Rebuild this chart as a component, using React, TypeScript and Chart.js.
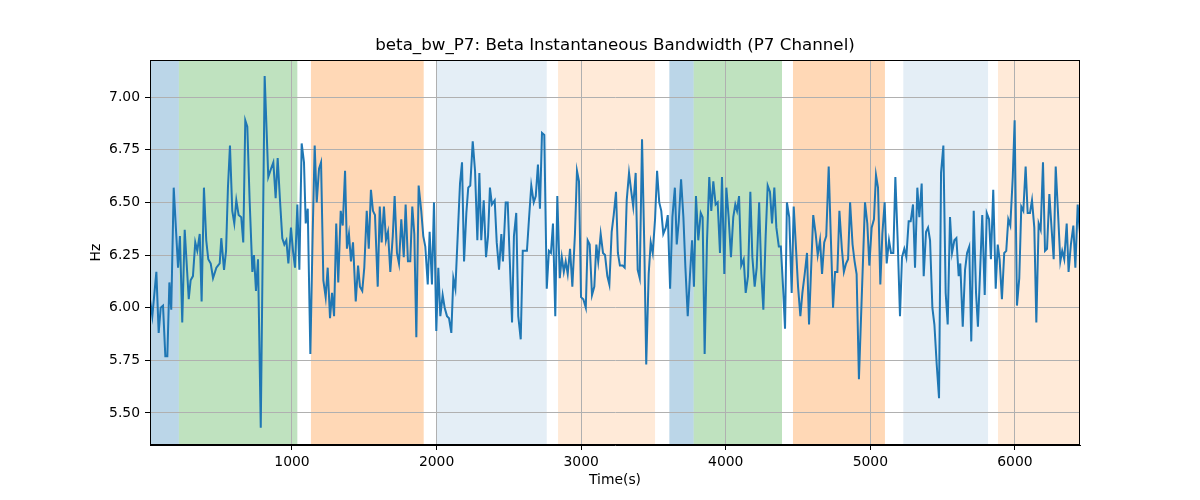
import React, { useEffect, useRef } from "react";
import { Chart, registerables } from "chart.js";

Chart.register(...registerables);

const times = [
  18, 34, 62, 78, 92, 108, 124, 138, 152, 165, 182, 212, 225, 241, 258, 286, 299, 315, 331, 345,
  362, 375, 391, 407, 421, 438, 454, 477, 488, 500, 511, 530, 544, 557, 571, 587, 601, 615, 631, 649,
  663, 677, 691, 707, 726, 737, 751, 765, 784, 811,
  836, 855, 871, 887, 901, 917, 933, 947, 961, 975, 993, 1007, 1021, 1037, 1051, 1067, 1083, 1095, 1109, 1127,
  1143, 1157, 1171, 1187, 1201, 1217, 1233, 1247, 1263, 1277, 1291, 1306, 1320, 1337, 1351, 1367, 1380, 1394, 1408, 1422,
  1441, 1457, 1470, 1486, 1500, 1517, 1531, 1546, 1560, 1574, 1593, 1607, 1620, 1636,
  1650, 1664, 1680, 1697, 1710, 1726, 1740, 1756, 1773, 1786, 1802, 1818, 1832, 1846, 1860, 1876, 1894, 1908, 1922, 1939,
  1952, 1968, 1982, 1998, 2012, 2026, 2042, 2056, 2072, 2086, 2102, 2116, 2130, 2146, 2162, 2176, 2190, 2206, 2219, 2233,
  2250, 2266, 2282, 2296, 2309, 2326, 2342, 2356, 2369, 2383, 2402, 2416, 2432, 2448,
  2459, 2478, 2492, 2506, 2522, 2535, 2551, 2565, 2582, 2596, 2611, 2625, 2639, 2655, 2672, 2686, 2701, 2715, 2729, 2745,
  2762, 2777, 2791, 2805, 2821, 2835, 2852, 2866, 2880, 2893, 2907, 2923, 2939, 2957, 2971, 2985, 2999, 3015, 3032, 3045,
  3059, 3075, 3091, 3105, 3118, 3135, 3151, 3165, 3181, 3195, 3211, 3225, 3241,
  3254, 3268, 3287, 3301, 3315, 3331, 3345, 3360, 3377, 3391, 3405, 3421, 3437, 3450, 3467, 3481, 3495, 3511, 3525, 3540,
  3554, 3568, 3585, 3599, 3615, 3631, 3648, 3661, 3675, 3691, 3707, 3721, 3737, 3753, 3767, 3780, 3794, 3810, 3827, 3840,
  3854, 3870, 3886, 3900, 3914, 3930, 3944, 3960, 3974, 3990, 4004, 4020, 4036, 4052, 4066,
  4078, 4092, 4107, 4124, 4138, 4154, 4170, 4184, 4200, 4214, 4231, 4246, 4260, 4276, 4290, 4306, 4320, 4336, 4350, 4367,
  4381, 4396, 4410, 4423, 4439, 4456, 4470, 4486, 4500, 4516, 4530, 4546, 4562, 4576, 4589, 4605, 4622, 4636, 4652, 4666,
  4681, 4695, 4712, 4726, 4742, 4756, 4772, 4786, 4803, 4817, 4832, 4846, 4860, 4877, 4891,
  4905, 4921, 4963, 4979, 4993, 5009, 5025, 5039, 5053, 5069, 5083, 5099, 5113, 5129, 5143, 5159, 5173, 5189, 5205, 5219,
  5235, 5249, 5265, 5279, 5295, 5309, 5325, 5339, 5355, 5369, 5385, 5399, 5413, 5429, 5443, 5459, 5475, 5489, 5505, 5521,
  5535, 5551, 5565, 5581, 5595, 5611, 5622, 5639, 5655, 5669, 5684,
  5698, 5715, 5731, 5744, 5760, 5774, 5791, 5805, 5821, 5834, 5850, 5867, 5881, 5894, 5910, 5926, 5940, 5954, 5968, 5985,
  5998, 6014, 6030, 6044, 6058, 6074, 6088, 6104, 6118, 6134, 6148, 6164, 6178, 6194, 6208, 6222, 6238, 6254, 6268, 6282,
  6298, 6314, 6327, 6341, 6358, 6371, 6387, 6404, 6418, 6434, 6450,
];

const hz = [
  6.04, 5.96, 6.17, 5.88, 6.0, 6.01, 5.77, 5.77, 6.12, 5.99, 6.57, 6.19, 6.34, 5.93, 6.37, 6.04, 6.13, 6.15, 6.31, 6.27,
  6.35, 6.03, 6.57, 6.32, 6.23, 6.21, 6.14, 6.19, 6.2, 6.21, 6.33, 6.18, 6.27, 6.57, 6.77, 6.46, 6.4, 6.51, 6.44, 6.43,
  6.31, 6.89, 6.86, 6.51, 6.17, 6.25, 6.08, 6.23, 5.43, 7.1,
  6.62, 6.66, 6.69, 6.52, 6.71, 6.51, 6.33, 6.3, 6.32, 6.21, 6.38, 6.27, 6.19, 6.49, 6.18, 6.78, 6.69, 6.4, 6.47, 5.78,
  6.35, 6.77, 6.5, 6.66, 6.69, 6.13, 6.05, 6.19, 5.95, 6.07, 5.96, 6.4, 6.12, 6.46, 6.39, 6.65, 6.28, 6.35, 6.22, 6.31,
  6.03, 6.2, 6.1, 6.08, 6.19, 6.46, 6.28, 6.56, 6.46, 6.44, 6.1, 6.48, 6.31, 6.48,
  6.32, 6.36, 6.17, 6.34, 6.53, 6.26, 6.21, 6.42, 6.24, 6.49, 6.22, 6.22, 6.48, 6.35, 5.86, 6.58, 6.46, 6.34, 6.29, 6.11,
  6.36, 6.11, 6.5, 5.89, 6.19, 5.96, 6.06, 6.0, 5.96, 5.95, 5.88, 6.14, 6.09, 6.34, 6.59, 6.69, 6.22, 6.45, 6.57, 6.58,
  6.79, 6.65, 6.32, 6.64, 6.32, 6.51, 6.24, 6.34, 6.57, 6.49, 6.51, 6.31, 6.18, 6.35,
  6.22, 6.5, 6.5, 6.23, 5.93, 6.34, 6.45, 5.96, 5.85, 6.27, 6.27, 6.27, 6.42, 6.58, 6.5, 6.53, 6.68, 6.47, 6.83, 6.82,
  6.09, 6.27, 6.26, 6.4, 5.96, 6.53, 6.14, 6.24, 6.17, 6.22, 6.16, 6.28, 6.1, 6.35, 6.65, 6.6, 6.05, 6.04, 6.0, 6.32,
  6.3, 6.06, 6.1, 6.3, 6.22, 6.35, 6.26, 6.25, 6.15, 6.11, 6.36, 6.44, 6.55,
  6.26, 6.2, 6.2, 6.19, 6.51, 6.64, 6.56, 6.48, 6.64, 6.18, 6.14, 6.8, 6.28, 5.73, 6.16, 6.31, 6.26, 6.42, 6.65, 6.5,
  6.46, 6.35, 6.38, 6.44, 6.09, 6.43, 6.57, 6.3, 6.41, 6.61, 6.43, 6.19, 5.96, 6.16, 6.32, 6.1, 6.53, 6.32, 6.45, 6.43,
  5.78, 6.31, 6.62, 6.46, 6.6, 6.49, 6.5, 6.26, 6.62, 6.16, 6.57, 6.43, 6.24, 6.43, 6.49,
  6.46, 6.53, 6.2, 6.23, 6.07, 6.15, 6.55, 6.24, 6.1, 6.19, 6.5, 6.16, 5.99, 6.34, 6.58, 6.55, 6.4, 6.57, 6.38, 6.29,
  6.29, 6.1, 5.9, 6.5, 6.43, 6.07, 6.48, 6.28, 6.1, 5.96, 6.07, 6.16, 6.26, 5.92, 6.16, 6.44, 6.35, 6.25, 6.32, 6.16,
  6.31, 6.34, 6.67, 6.35, 6.0, 6.17, 6.17, 6.46, 6.28, 6.17, 6.21, 6.23, 6.5, 6.3, 6.22,
  6.16, 5.66, 6.5, 6.4, 6.2, 6.38, 6.42, 6.63, 6.57, 6.11, 6.35, 6.5, 6.21, 6.32, 6.26, 6.26, 6.62, 6.32, 5.96, 6.24,
  6.28, 6.24, 6.41, 6.41, 6.49, 6.19, 6.57, 6.43, 6.59, 6.15, 6.36, 6.38, 6.32, 6.0, 5.92, 5.73, 5.57, 6.64, 6.77, 6.07,
  5.92, 6.43, 6.26, 6.32, 6.33, 6.15, 6.21, 5.91, 6.18, 6.26, 6.29,
  5.84, 6.46, 6.07, 5.91, 6.19, 6.44, 6.06, 6.45, 6.42, 6.23, 6.56, 6.09, 6.3, 6.23, 6.04, 6.26, 6.27, 6.42, 6.39, 6.62,
  6.89, 6.01, 6.14, 6.48, 6.46, 6.67, 6.45, 6.45, 6.51, 6.38, 5.93, 6.4, 6.37, 6.69, 6.27, 6.28, 6.54, 6.37, 6.23, 6.67,
  6.45, 6.22, 6.27, 6.23, 6.4, 6.17, 6.3, 6.39, 6.19, 6.49, 6.35,
];

const xLimits = [18, 6450];
const yLimits = [5.348, 7.176];
const xTickValues = [1000, 2000, 3000, 4000, 5000, 6000];
const yTickValues = [5.5, 5.75, 6.0, 6.25, 6.5, 6.75, 7.0];

const spanStarts = [18, 218, 1131, 2003, 2840, 3610, 3778, 4465, 5228, 5883];
const spanEnds = [218, 1037, 1911, 2762, 3511, 3778, 4389, 5101, 5814, 6450];
const spanKinds = [
  "blue", "green", "orange", "lightblue", "lightorange",
  "blue", "green", "orange", "lightblue", "lightorange",
];

const titleText = "beta_bw_P7: Beta Instantaneous Bandwidth (P7 Channel)";
const xTitle = "Time(s)";
const yTitle = "Hz";

const spanFill: Record<string, string> = {
  blue: "rgba(31,119,180,0.3)",
  green: "rgba(44,160,44,0.3)",
  orange: "rgba(255,127,14,0.3)",
  lightblue: "rgba(31,119,180,0.12)",
  lightorange: "rgba(255,127,14,0.16)",
};

const FONT = "'DejaVu Sans', sans-serif";

const spansPlugin = {
  id: "spans",
  beforeDraw(chart: any) {
    const { ctx, chartArea, scales } = chart;
    const x = scales.x;
    ctx.save();
    ctx.beginPath();
    ctx.rect(chartArea.left, chartArea.top, chartArea.right - chartArea.left, chartArea.bottom - chartArea.top);
    ctx.clip();
    spanStarts.forEach((s, i) => {
      const x0 = x.getPixelForValue(s);
      const x1 = x.getPixelForValue(spanEnds[i]);
      ctx.fillStyle = spanFill[spanKinds[i]];
      ctx.fillRect(x0, chartArea.top, x1 - x0, chartArea.bottom - chartArea.top);
    });
    ctx.restore();
  },
  afterDatasetsDraw(chart: any) {
    const { ctx, chartArea } = chart;
    ctx.save();
    ctx.strokeStyle = "#000";
    ctx.lineWidth = 1;
    ctx.strokeRect(
      Math.round(chartArea.left) + 0.5,
      Math.round(chartArea.top) + 0.5,
      Math.round(chartArea.right - chartArea.left) - 1,
      Math.round(chartArea.bottom - chartArea.top) - 1
    );
    ctx.restore();
  },
};

export default function App() {
  const canvasRef = useRef<HTMLCanvasElement | null>(null);

  useEffect(() => {
    if (!canvasRef.current) return;
    const points = times.map((t, i) => ({ x: t, y: hz[i] }));
    const chart = new Chart(canvasRef.current, {
      type: "line",
      data: {
        datasets: [
          {
            data: points,
            borderColor: "#1f77b4",
            borderWidth: 2,
            pointRadius: 0,
            tension: 0,
            fill: false,
          },
        ],
      },
      options: {
        responsive: false,
        animation: false,
        devicePixelRatio: 1,
        layout: { padding: { left: 0, right: 120, top: 0, bottom: 0 } },
        plugins: {
          legend: { display: false },
          tooltip: { enabled: false },
          title: {
            display: true,
            text: titleText,
            fullSize: false,
            color: "#000",
            font: { family: FONT, size: 16.7, weight: "normal", lineHeight: 1.2 },
            padding: { top: 36, bottom: 4 },
          },
        },
        scales: {
          x: {
            type: "linear",
            min: xLimits[0],
            max: xLimits[1],
            afterBuildTicks: (s: any) => {
              s.ticks = xTickValues.map((v) => ({ value: v }));
            },
            afterFit: (s: any) => {
              s.height = 55;
            },
            ticks: {
              autoSkip: false,
              maxRotation: 0,
              padding: 4,
              color: "#000",
              font: { family: FONT, size: 13.9 },
              callback: (v: any) => String(v),
            },
            grid: { color: "#b0b0b0", lineWidth: 1, tickColor: "#000", tickLength: 5, drawTicks: true },
            border: { color: "#000", width: 1 },
            title: {
              display: true,
              text: xTitle,
              color: "#000",
              font: { family: FONT, size: 13.9, lineHeight: 1.2 },
              padding: { top: 0, bottom: 11 },
            },
          },
          y: {
            type: "linear",
            min: yLimits[0],
            max: yLimits[1],
            afterBuildTicks: (s: any) => {
              s.ticks = yTickValues.map((v) => ({ value: v }));
            },
            afterFit: (s: any) => {
              s.width = 150;
            },
            ticks: {
              autoSkip: false,
              padding: 5,
              color: "#000",
              font: { family: FONT, size: 13.9 },
              callback: (v: any) => Number(v).toFixed(2),
            },
            grid: { color: "#b0b0b0", lineWidth: 1, tickColor: "#000", tickLength: 5, drawTicks: true },
            border: { color: "#000", width: 1 },
            title: {
              display: true,
              text: yTitle,
              color: "#000",
              font: { family: FONT, size: 13.9, lineHeight: 1.2 },
              padding: { top: 88, bottom: 0 },
            },
          },
        },
      },
      plugins: [spansPlugin],
    });
    return () => chart.destroy();
  }, []);

  return (
    <div style={{ position: "fixed", left: 0, top: 0, width: 1200, height: 500, background: "#fff" }}>
      <canvas ref={canvasRef} width={1200} height={500} style={{ display: "block", width: 1200, height: 500 }} />
    </div>
  );
}
